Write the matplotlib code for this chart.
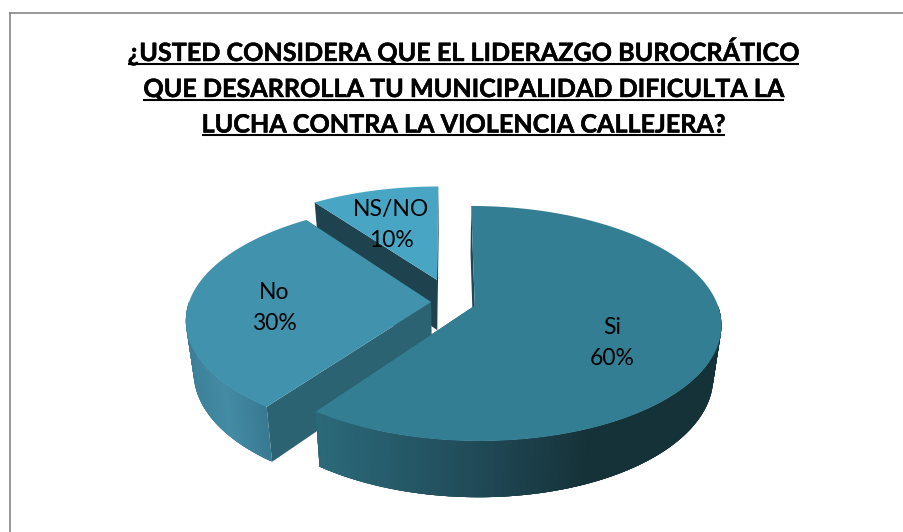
import numpy as np
import matplotlib
matplotlib.use('Agg')
import matplotlib.pyplot as plt
import matplotlib.patheffects as pe
from matplotlib.collections import PolyCollection
from matplotlib.colors import to_rgb

# chart values
CATEGORIES = ['Si', 'No', 'NS/NO']
SHARES = [60, 30, 10]
TITLE_LINES = ['¿USTED CONSIDERA QUE EL LIDERAZGO BUROCRÁTICO',
               'QUE DESARROLLA TU MUNICIPALIDAD DIFICULTA LA',
               'LUCHA CONTRA LA VIOLENCIA CALLEJERA?']

# projection of the tilted pie onto the pixel axes
CX, CY = 448, 302
RX, RY = 242, 113.7
PERSP = 0.151
DEPTH = 51
SHRINK = 0.97

# explosion offset of each slice, same order as CATEGORIES
OFFSETS = [(0.11, -0.032), (-0.07, 0.0), (-0.047, 0.2)]
TOP_COLORS = ['#347e94', '#4092ad', '#48a6c4']
RADIAL_COLORS = ['#1e4a57', '#2b6373', '#1e424e']
# rim gradients: pixel x of each stop and its colour
RIM_STOPS = [([316, 470, 590, 725], ['#2b6a7a', '#214c5a', '#163239', '#163239']),
             ([186, 225, 270], ['#3c8098', '#448ba5', '#377890'])]
LABEL_POS = [(612, 343), (274, 308), (391, 225)]


def project(theta, radius, offset, bottom=False):
    # theta runs clockwise from the top of the pie
    wx = radius * np.sin(theta) + offset[0]
    wy = radius * np.cos(theta) + offset[1]
    den = 1 + PERSP * wy
    if bottom:
        return (CX + SHRINK * RX * wx / den,
                CY + (DEPTH - SHRINK * RY * wy) / den)
    return CX + RX * wx / den, CY - RY * wy / den


def slice_poly(start, end, offset):
    thetas = np.linspace(start, end, 200)
    x, y = project(thetas, 1.0, offset)
    ax0, ay0 = project(0.0, 0.0, offset)
    return np.column_stack([np.r_[ax0, x], np.r_[ay0, y]])


def radial_wall(theta, offset):
    x0, y0 = project(0.0, 0.0, offset)
    x1, y1 = project(theta, 1.0, offset)
    x2, y2 = project(theta, 1.0, offset, True)
    x3, y3 = project(0.0, 0.0, offset, True)
    return [(x0, y0), (x1, y1), (x2, y2), (x3, y3)]


def outer_wall(ax, start, end, offset, stops):
    n = 300
    thetas = np.linspace(start, end, n)
    x, y = project(thetas, 1.0, offset)
    xb, yb = project(thetas, 1.0, offset, True)
    xs, cols = stops
    rgb = np.array([to_rgb(c) for c in cols])
    quads, colors = [], []
    for i in range(n - 1):
        # every quad runs a bit under the next one, so no seams show
        j = min(i + 4, n - 1)
        quads.append([(x[i], y[i]), (x[j], y[j]), (xb[j], yb[j]), (xb[i], yb[i])])
        colors.append([np.interp(x[i], xs, rgb[:, c]) for c in range(3)])
    ax.add_collection(PolyCollection(quads, facecolors=colors, edgecolors='none',
                                     linewidths=0))


fig = plt.figure(figsize=(9.04, 5.32), dpi=100)
ax = fig.add_axes([0, 0, 1, 1])
ax.axis('off')
ax.set_xlim(0, 904)
ax.set_ylim(532, 0)

# chart frame, the right and bottom sides are cut off in the source
ax.plot([10, 10], [532, 13], color='#868686', lw=1.2)
ax.plot([10, 904], [13, 13], color='#868686', lw=1.2)

# slice angles come from the shares, drawn back to front
edges = np.r_[0, np.cumsum(SHARES)] / sum(SHARES) * 2 * np.pi
for i in [2, 1, 0]:
    a0, a1 = edges[i], edges[i + 1]
    off = OFFSETS[i]
    ax.add_patch(plt.Polygon(radial_wall(a1, off), color=RADIAL_COLORS[i], lw=0))
    ax.add_patch(plt.Polygon(radial_wall(a0, off), color=RADIAL_COLORS[i], lw=0))
    # only the part of the rim facing the viewer
    w0, w1 = max(a0, np.pi / 2), min(a1, 3 * np.pi / 2)
    if w1 > w0:
        outer_wall(ax, w0, w1, off, RIM_STOPS[i])
    ax.add_patch(plt.Polygon(slice_poly(a0, a1, off), color=TOP_COLORS[i], lw=0))
    ax.text(LABEL_POS[i][0], LABEL_POS[i][1],
            '%s\n%d%%' % (CATEGORIES[i], SHARES[i]),
            ha='center', va='center', fontsize=16.5, family='Lato',
            color='black', linespacing=1.64)

# title with underlines
fig.canvas.draw()
renderer = fig.canvas.get_renderer()
for line, base, under in zip(TITLE_LINES, [61, 97, 132.5], [64, 99.5, 135]):
    txt = ax.text(463.5, base, line, ha='center', va='baseline', fontsize=18.1,
                  family='Lato', fontweight='bold', color='black',
                  path_effects=[pe.withStroke(linewidth=0.35, foreground='black')])
    box = txt.get_window_extent(renderer)
    ax.plot([box.x0, box.x1], [under, under], color='black', lw=1.5,
            solid_capstyle='butt')

fig.savefig('out.png', dpi=100)
